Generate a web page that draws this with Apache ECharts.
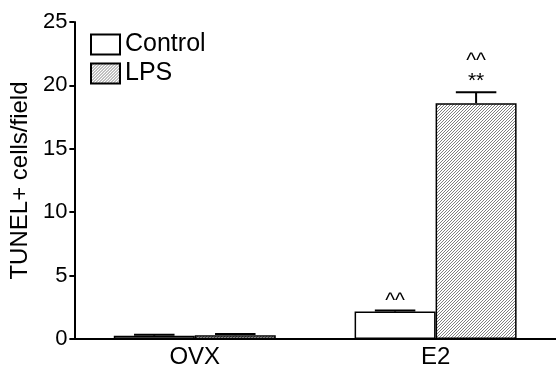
<!DOCTYPE html>
<html>
<head>
<meta charset="utf-8">
<script src="https://cdn.jsdelivr.net/npm/echarts@6/dist/echarts.min.js"></script>
<style>
html,body{margin:0;padding:0;background:#fff;}
#main{width:556px;height:369px;}
</style>
</head>
<body>
<div id="main"></div>
<script>
// ---- data ----
var categories = ['OVX', 'E2'];
var controlValues = [0.26, 2.16];
var controlErrors = [0.07, 0.08];
var lpsValues = [0.30, 18.6];
var lpsErrors = [0.10, 0.85];
var controlMarks = [[], ['^^']];
var lpsMarks = [[], ['**', '^^']];
var yTicks = [0, 5, 10, 15, 20, 25];

// ---- hatch pattern ----
function makeHatch() {
  var c = document.createElement('canvas');
  var s = 6;
  c.width = s; c.height = s;
  var g = c.getContext('2d');
  g.fillStyle = '#ffffff';
  g.fillRect(0, 0, s, s);
  g.strokeStyle = '#606060';
  g.lineWidth = 0.8;
  g.beginPath();
  for (var k = -2; k <= 2; k++) {
    var o = k * 3;
    g.moveTo(o, s);
    g.lineTo(o + s, 0);
  }
  g.stroke();
  return c;
}
var hatch = { image: makeHatch(), repeat: 'repeat' };

var BAR_W = 81;
var FONT = 'Liberation Sans, Arial, sans-serif';

function errorSeries(values, errors, marks, offset) {
  var data = values.map(function (v, i) { return [i, v, v + errors[i]]; });
  return {
    type: 'custom',
    z: 5,
    silent: true,
    data: data,
    renderItem: function (params, api) {
      var i = api.value(0);
      var base = api.coord([i, api.value(1)]);
      var top = api.coord([i, api.value(2)]);
      var x = base[0] + offset;
      var half = BAR_W / 4;
      var children = [
        { type: 'line', shape: { x1: x, y1: base[1], x2: x, y2: top[1] }, style: { stroke: '#000', lineWidth: 2 } },
        { type: 'line', shape: { x1: x - half, y1: top[1], x2: x + half, y2: top[1] }, style: { stroke: '#000', lineWidth: 2 } }
      ];
      marks[i].forEach(function (m, k) {
        var y = top[1] - 1 - 20 * k + (m === '^^' && k === 0 ? 2 : 0);
        children.push({
          type: 'text',
          style: {
            text: m, x: x, y: y,
            align: 'center', verticalAlign: 'bottom',
            fill: '#000', font: '21px ' + FONT, lineHeight: 20
          }
        });
      });
      return { type: 'group', children: children };
    }
  };
}

var chart = echarts.init(document.getElementById('main'), null, { renderer: 'canvas' });
chart.setOption({
  animation: false,
  backgroundColor: '#fff',
  grid: { left: 74, right: 0, top: 22, bottom: 27, containLabel: false },
  legend: {
    orient: 'vertical',
    left: 90, top: 32, padding: 0,
    icon: 'rect',
    itemWidth: 29, itemHeight: 20, itemGap: 4,
    textStyle: { fontSize: 25, color: '#000', fontFamily: FONT },
    data: ['Control', 'LPS']
  },
  xAxis: {
    type: 'category',
    data: categories,
    axisLine: { lineStyle: { color: '#000', width: 2 } },
    axisTick: { show: false },
    axisLabel: { fontSize: 24, color: '#000', fontFamily: FONT, margin: 6 }
  },
  yAxis: {
    type: 'value',
    min: yTicks[0], max: yTicks[yTicks.length - 1], interval: 5,
    name: 'TUNEL+ cells/field',
    nameLocation: 'middle', nameGap: 38,
    nameTextStyle: { fontSize: 24, color: '#000', fontFamily: FONT },
    axisLine: { show: true, lineStyle: { color: '#000', width: 2 } },
    axisTick: { show: true, length: 5, lineStyle: { color: '#000', width: 2 } },
    axisLabel: { fontSize: 22, color: '#000', fontFamily: FONT, margin: 7 },
    splitLine: { show: false }
  },
  series: [
    {
      name: 'Control', type: 'bar', data: controlValues,
      barWidth: BAR_W, barGap: '0%',
      itemStyle: { color: '#fff', borderColor: '#000', borderWidth: 1.5 }
    },
    {
      name: 'LPS', type: 'bar', data: lpsValues,
      barWidth: BAR_W, barGap: '0%',
      itemStyle: { color: hatch, borderColor: '#000', borderWidth: 1.5 }
    },
    errorSeries(controlValues, controlErrors, controlMarks, -BAR_W / 2),
    errorSeries(lpsValues, lpsErrors, lpsMarks, BAR_W / 2)
  ]
});
</script>
</body>
</html>
